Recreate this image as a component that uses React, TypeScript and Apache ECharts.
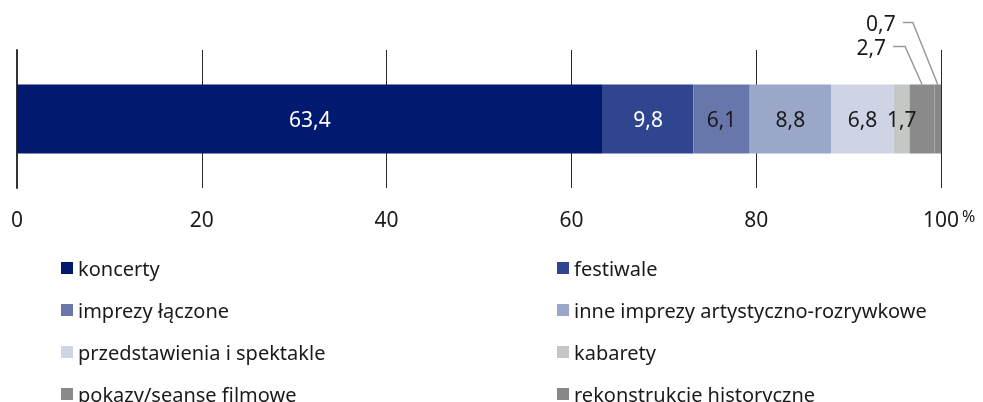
import React, { useEffect, useRef } from "react";
import * as echarts from "echarts";

const categories = [""];
const seriesNames = [
  "koncerty",
  "festiwale",
  "imprezy łączone",
  "inne imprezy artystyczno-rozrywkowe",
  "przedstawienia i spektakle",
  "kabarety",
  "pokazy/seanse filmowe",
  "rekonstrukcje historyczne",
];
const seriesValues = [63.4, 9.8, 6.1, 8.8, 6.8, 1.7, 2.7, 0.7];
const seriesColors = [
  "#01196f",
  "#2f4590",
  "#6777ab",
  "#9aa7c9",
  "#ced3e5",
  "#c5c7c5",
  "#8a8a8a",
  "#878787",
];
const labelColors = ["#ffffff", "#ffffff", "#1a1a1a", "#1a1a1a", "#1a1a1a", "#1a1a1a", "#1a1a1a", "#1a1a1a"];
const insideLabel = [true, true, true, true, true, true, false, false];
const xTicks = [0, 20, 40, 60, 80, 100];
const leftLegend = [seriesNames[0], seriesNames[2], seriesNames[4], seriesNames[6]];
const rightLegend = [seriesNames[1], seriesNames[3], seriesNames[5], seriesNames[7]];

const FONT = "'Noto Sans', sans-serif";
const fmt = (v: number) => v.toFixed(1).replace(".", ",");

export default function App() {
  const ref = useRef<HTMLDivElement>(null);
  useEffect(() => {
    if (!ref.current) return;
    document.body.style.margin = "0";
    const chart = echarts.init(ref.current, undefined, { renderer: "svg" });
    const legendCommon = {
      orient: "vertical" as const,
      top: 252,
      height: 300,
      itemWidth: 12,
      itemHeight: 12,
      itemGap: 20,
      icon: "rect",
      selectedMode: false,
      textStyle: { fontFamily: FONT, fontSize: 20, lineHeight: 22, color: "#1a1a1a" },
    };
    chart.setOption({
      animation: false,
      textStyle: { fontFamily: FONT },
      grid: { left: 17, right: 42, top: 50, height: 138, containLabel: false },
      legend: [
        { ...legendCommon, left: 56, data: leftLegend },
        { ...legendCommon, left: 552, data: rightLegend },
      ],
      xAxis: {
        type: "value",
        min: xTicks[0],
        max: xTicks[xTicks.length - 1],
        interval: 20,
        axisLine: { show: false },
        axisTick: { show: false },
        splitLine: { show: true, lineStyle: { color: "#2a2a2a", width: 1 } },
        axisLabel: { fontFamily: FONT, fontSize: 21, color: "#1a1a1a", margin: 20 },
      },
      yAxis: {
        type: "category",
        data: categories,
        axisLine: { show: true, lineStyle: { color: "#333333", width: 2 } },
        axisTick: { show: false },
        axisLabel: { show: false },
      },
      series: seriesNames.map((name, i) => ({
        name,
        type: "bar",
        stack: "total",
        barWidth: 69,
        data: [seriesValues[i]],
        itemStyle: { color: seriesColors[i] },
        label: {
          show: insideLabel[i],
          position: "inside",
          formatter: (p: any) => fmt(p.value),
          color: labelColors[i],
          fontFamily: FONT,
          fontSize: 21,
        },
      })),
    });

    let cum = 0;
    const starts = seriesValues.map((v) => {
      const s = cum;
      cum += v;
      return s;
    });
    const callouts = [
      { idx: 6, dx: -17, dy: -38, hx: -12 },
      { idx: 7, dx: -25, dy: -62, hx: -10 },
    ];
    const graphics: any[] = [];
    callouts.forEach((c) => {
      const center = starts[c.idx] + seriesValues[c.idx] / 2;
      const p = chart.convertToPixel({ xAxisIndex: 0, yAxisIndex: 0 }, [center, 0]) as number[];
      const x0 = p[0];
      const y0 = p[1] - 34.5;
      const ex = x0 + c.dx;
      const ey = y0 + c.dy;
      const hx = ex + c.hx;
      graphics.push({
        type: "polyline",
        shape: { points: [[x0, y0], [ex, ey], [hx, ey]] },
        style: { stroke: "#9a9a9a", lineWidth: 1.5, fill: null },
      });
      graphics.push({
        type: "text",
        x: hx - 7,
        y: ey,
        style: {
          text: fmt(seriesValues[c.idx]),
          align: "right",
          verticalAlign: "middle",
          fontFamily: FONT,
          fontSize: 21,
          fill: "#1a1a1a",
        },
      });
    });
    const pEnd = chart.convertToPixel({ xAxisIndex: 0, yAxisIndex: 0 }, [xTicks[xTicks.length - 1], 0]) as number[];
    graphics.push({
      type: "text",
      x: pEnd[0] + 21,
      y: 208,
      style: { text: "%", fontFamily: FONT, fontSize: 16, fill: "#1a1a1a" },
    });
    chart.setOption({ graphic: graphics });

    return () => chart.dispose();
  }, []);
  return <div ref={ref} style={{ position: "fixed", left: 0, top: 0, width: 983, height: 402 }} />;
}
